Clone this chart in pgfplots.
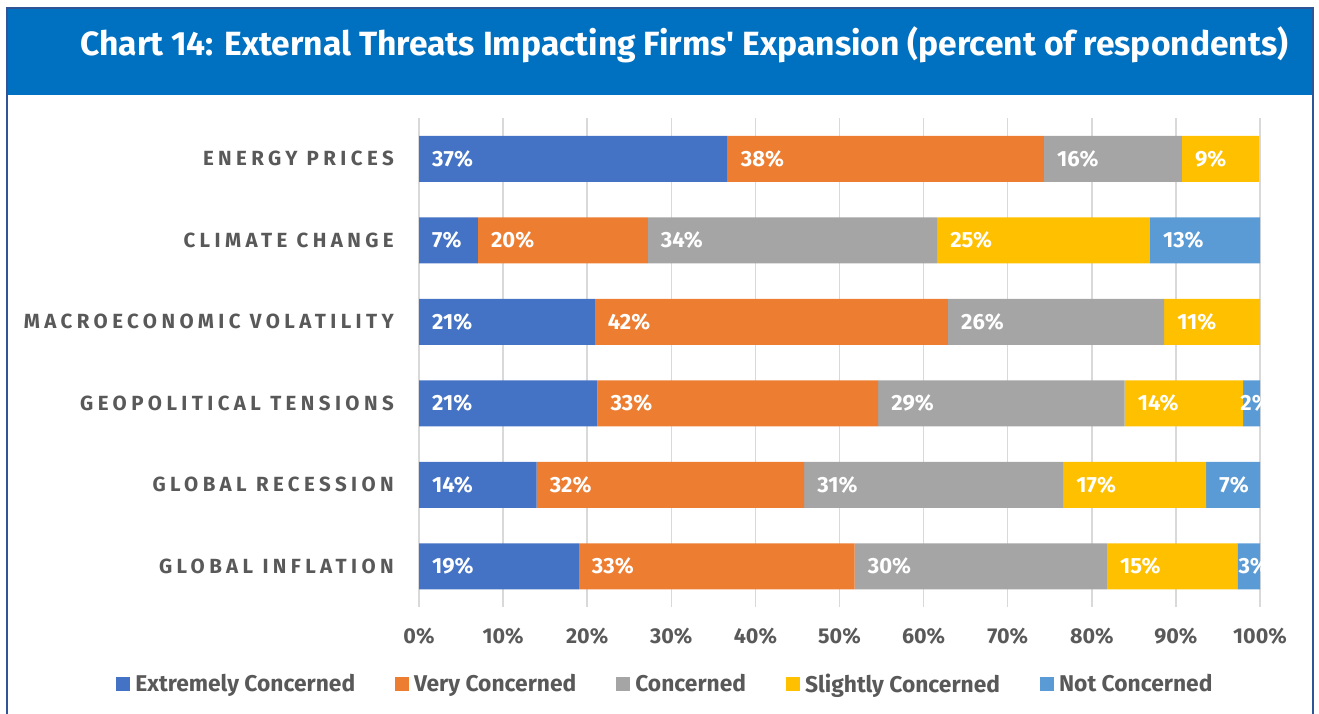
\documentclass[border=0pt]{standalone}
\usepackage{pgfplots}
\pgfplotsset{compat=1.18}
\usepackage{fontspec}
\setmainfont{Fira Sans}
\newfontfamily\catfont[LetterSpace=21.5]{Fira Sans}
\definecolor{titleblue}{HTML}{0070C0}
\definecolor{framecol}{HTML}{2F5597}
\definecolor{cA}{HTML}{4472C4}
\definecolor{cB}{HTML}{ED7D31}
\definecolor{cC}{HTML}{A5A5A5}
\definecolor{cD}{HTML}{FFC000}
\definecolor{cE}{HTML}{5B9BD5}
\definecolor{textgray}{HTML}{595959}
\definecolor{gridgray}{HTML}{D9D9D9}
\begin{document}
\begin{tikzpicture}
\useasboundingbox (0pt,0pt) rectangle (1319pt,713pt);
\fill[titleblue] (7pt,618pt) rectangle (1313pt,705pt);
\draw[framecol, line width=1.2pt] (7pt,-2pt) -- (7pt,705pt) -- (1313pt,705pt) -- (1313pt,-2pt);
\node[anchor=west, text=white, inner sep=0pt, font=\fontsize{33.6}{38}\selectfont\bfseries] at (80pt,668pt) {Chart 14: External Threats Impacting Firms\textquotesingle{} Expansion (percent of respondents)};
\begin{axis}[
  at={(419pt,106pt)}, anchor=south west, scale only axis,
  width=841pt, height=489pt,
  xbar stacked, bar width=46pt,
  xmin=0, xmax=100, ymin=-0.5, ymax=5.5,
  xtick={0,10,...,100},
  xticklabels={0\%,10\%,20\%,30\%,40\%,50\%,60\%,70\%,80\%,90\%,100\%},
  ytick={0,1,2,3,4,5},
  yticklabels={GLOBAL INFLATION,GLOBAL RECESSION,GEOPOLITICAL TENSIONS,MACROECONOMIC VOLATILITY,CLIMATE CHANGE,ENERGY PRICES},
  xmajorgrids, grid style={color=gridgray, line width=1.5pt},
  axis line style={draw=none}, tick style={draw=none},
  xticklabel style={font=\fontsize{21.5}{25}\selectfont\bfseries, text=textgray, inner sep=0pt, anchor=north, yshift=-21pt},
  yticklabel style={font=\catfont\fontsize{20.5}{24}\selectfont\bfseries, text=textgray, inner sep=0pt, anchor=east, xshift=-25pt},
  legend style={at={(axis description cs:0.293,-0.1575)}, anchor=center, draw=none, fill=none,
    font=\fontsize{22.8}{26}\selectfont\bfseries, text=textgray,
    /tikz/every even column/.append style={column sep=37pt},
    /tikz/every odd column/.append style={column sep=3pt},
    nodes={inner sep=2.5pt}},
  legend columns=-1,
  legend image code/.code={\fill[#1,draw=none] (0pt,-7pt) rectangle (14pt,7pt);},
]
\addplot[fill=cA, draw=none] coordinates {(36.7,5) (7.0,4) (20.9,3) (21.2,2) (14.0,1) (19.0,0)};
\addplot[fill=cB, draw=none] coordinates {(37.6,5) (20.2,4) (42.0,3) (33.4,2) (31.8,1) (32.8,0)};
\addplot[fill=cC, draw=none] coordinates {(16.4,5) (34.4,4) (25.7,3) (29.3,2) (30.8,1) (30.0,0)};
\addplot[fill=cD, draw=none] coordinates {(9.2,5) (25.3,4) (11.4,3) (14.1,2) (17.0,1) (15.5,0)};
\addplot[fill=cE, draw=none] coordinates {(0,5) (13.1,4) (0,3) (2.0,2) (6.4,1) (2.7,0)};
\legend{Extremely Concerned,Very Concerned,Concerned,Slightly Concerned,Not Concerned}
\end{axis}
\begin{axis}[
  at={(419pt,106pt)}, anchor=south west, scale only axis,
  width=841pt, height=489pt,
  xmin=0, xmax=100, ymin=-0.5, ymax=5.5,
  hide axis, clip=true,
  point meta=explicit symbolic,
  nodes near coords={\pgfplotspointmeta\%},
  every node near coord/.append style={anchor=west, inner sep=0pt, xshift=13pt, text=white,
    font=\fontsize{22}{26}\selectfont\bfseries},
]
\addplot[draw=none] coordinates {(0,5)[37] (0,4)[7] (0,3)[21] (0,2)[21] (0,1)[14] (0,0)[19]};
\addplot[draw=none] coordinates {(36.7,5)[38] (7.0,4)[20] (20.9,3)[42] (21.2,2)[33] (14.0,1)[32] (19.0,0)[33]};
\addplot[draw=none] coordinates {(74.3,5)[16] (27.2,4)[34] (62.9,3)[26] (54.6,2)[29] (45.8,1)[31] (51.8,0)[30]};
\addplot[draw=none] coordinates {(90.7,5)[9] (61.6,4)[25] (88.6,3)[11] (83.9,2)[14] (76.6,1)[17] (81.8,0)[15]};
\addplot[draw=none] coordinates {(86.9,4)[13] (93.6,1)[7]};
\addplot[draw=none, every node near coord/.append style={xshift=-16pt}] coordinates {(98.0,2)[2]};
\addplot[draw=none, every node near coord/.append style={xshift=-12pt}] coordinates {(97.3,0)[3]};
\end{axis}
\end{tikzpicture}
\end{document}
